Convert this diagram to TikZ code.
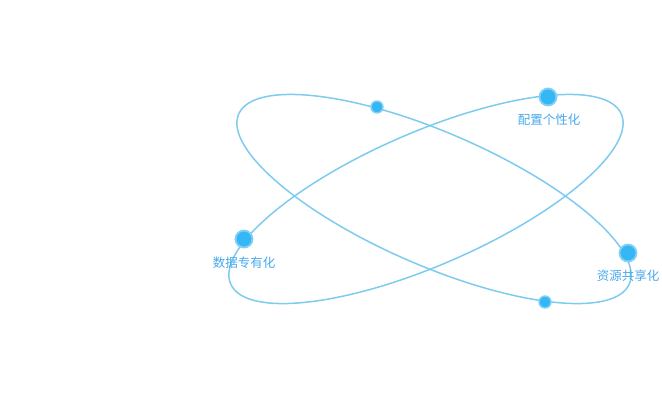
\documentclass[tikz,border=0pt]{standalone}
\usepackage{fontspec}
\newfontfamily\cjk{Noto Sans CJK SC}
\definecolor{orbit}{HTML}{7ECBEF}
\definecolor{dotfill}{HTML}{36B7F5}
\definecolor{dotring}{HTML}{82D0F6}
\definecolor{lbl}{HTML}{47A9EE}
\tikzset{
  orbitline/.style={draw=orbit, line width=1.5pt},
  bigdot/.style={circle, fill=dotfill, draw=dotring, line width=1.8pt, minimum size=17pt, inner sep=0pt},
  smalldot/.style={circle, fill=dotfill, draw=dotring, line width=1.4pt, minimum size=12pt, inner sep=0pt},
  lab/.style={text=lbl, font=\cjk\fontsize{12.5pt}{14pt}\selectfont, inner sep=0pt}
}
\begin{document}
\begin{tikzpicture}[x=1pt,y=-1pt]
\useasboundingbox (0,0) rectangle (662,405);
\draw[orbitline, rotate around={-23.5:(434,199)}] (434,199) ellipse [x radius=213, y radius=66.5];
\draw[orbitline, rotate around={23.5:(426,199)}] (426,199) ellipse [x radius=213, y radius=66.5];
\node[smalldot] (d1) at (377,107) {};
\node[bigdot] (d2) at (548,97) {};
\node[bigdot] (d3) at (244,239) {};
\node[bigdot] (d4) at (628,253) {};
\node[smalldot] (d5) at (545,302) {};
\node[lab] (l2) at (549,120) {配置个性化};
\node[lab] (l3) at (244,263) {数据专有化};
\node[lab] (l4) at (628,276) {资源共享化};
\end{tikzpicture}
\end{document}
